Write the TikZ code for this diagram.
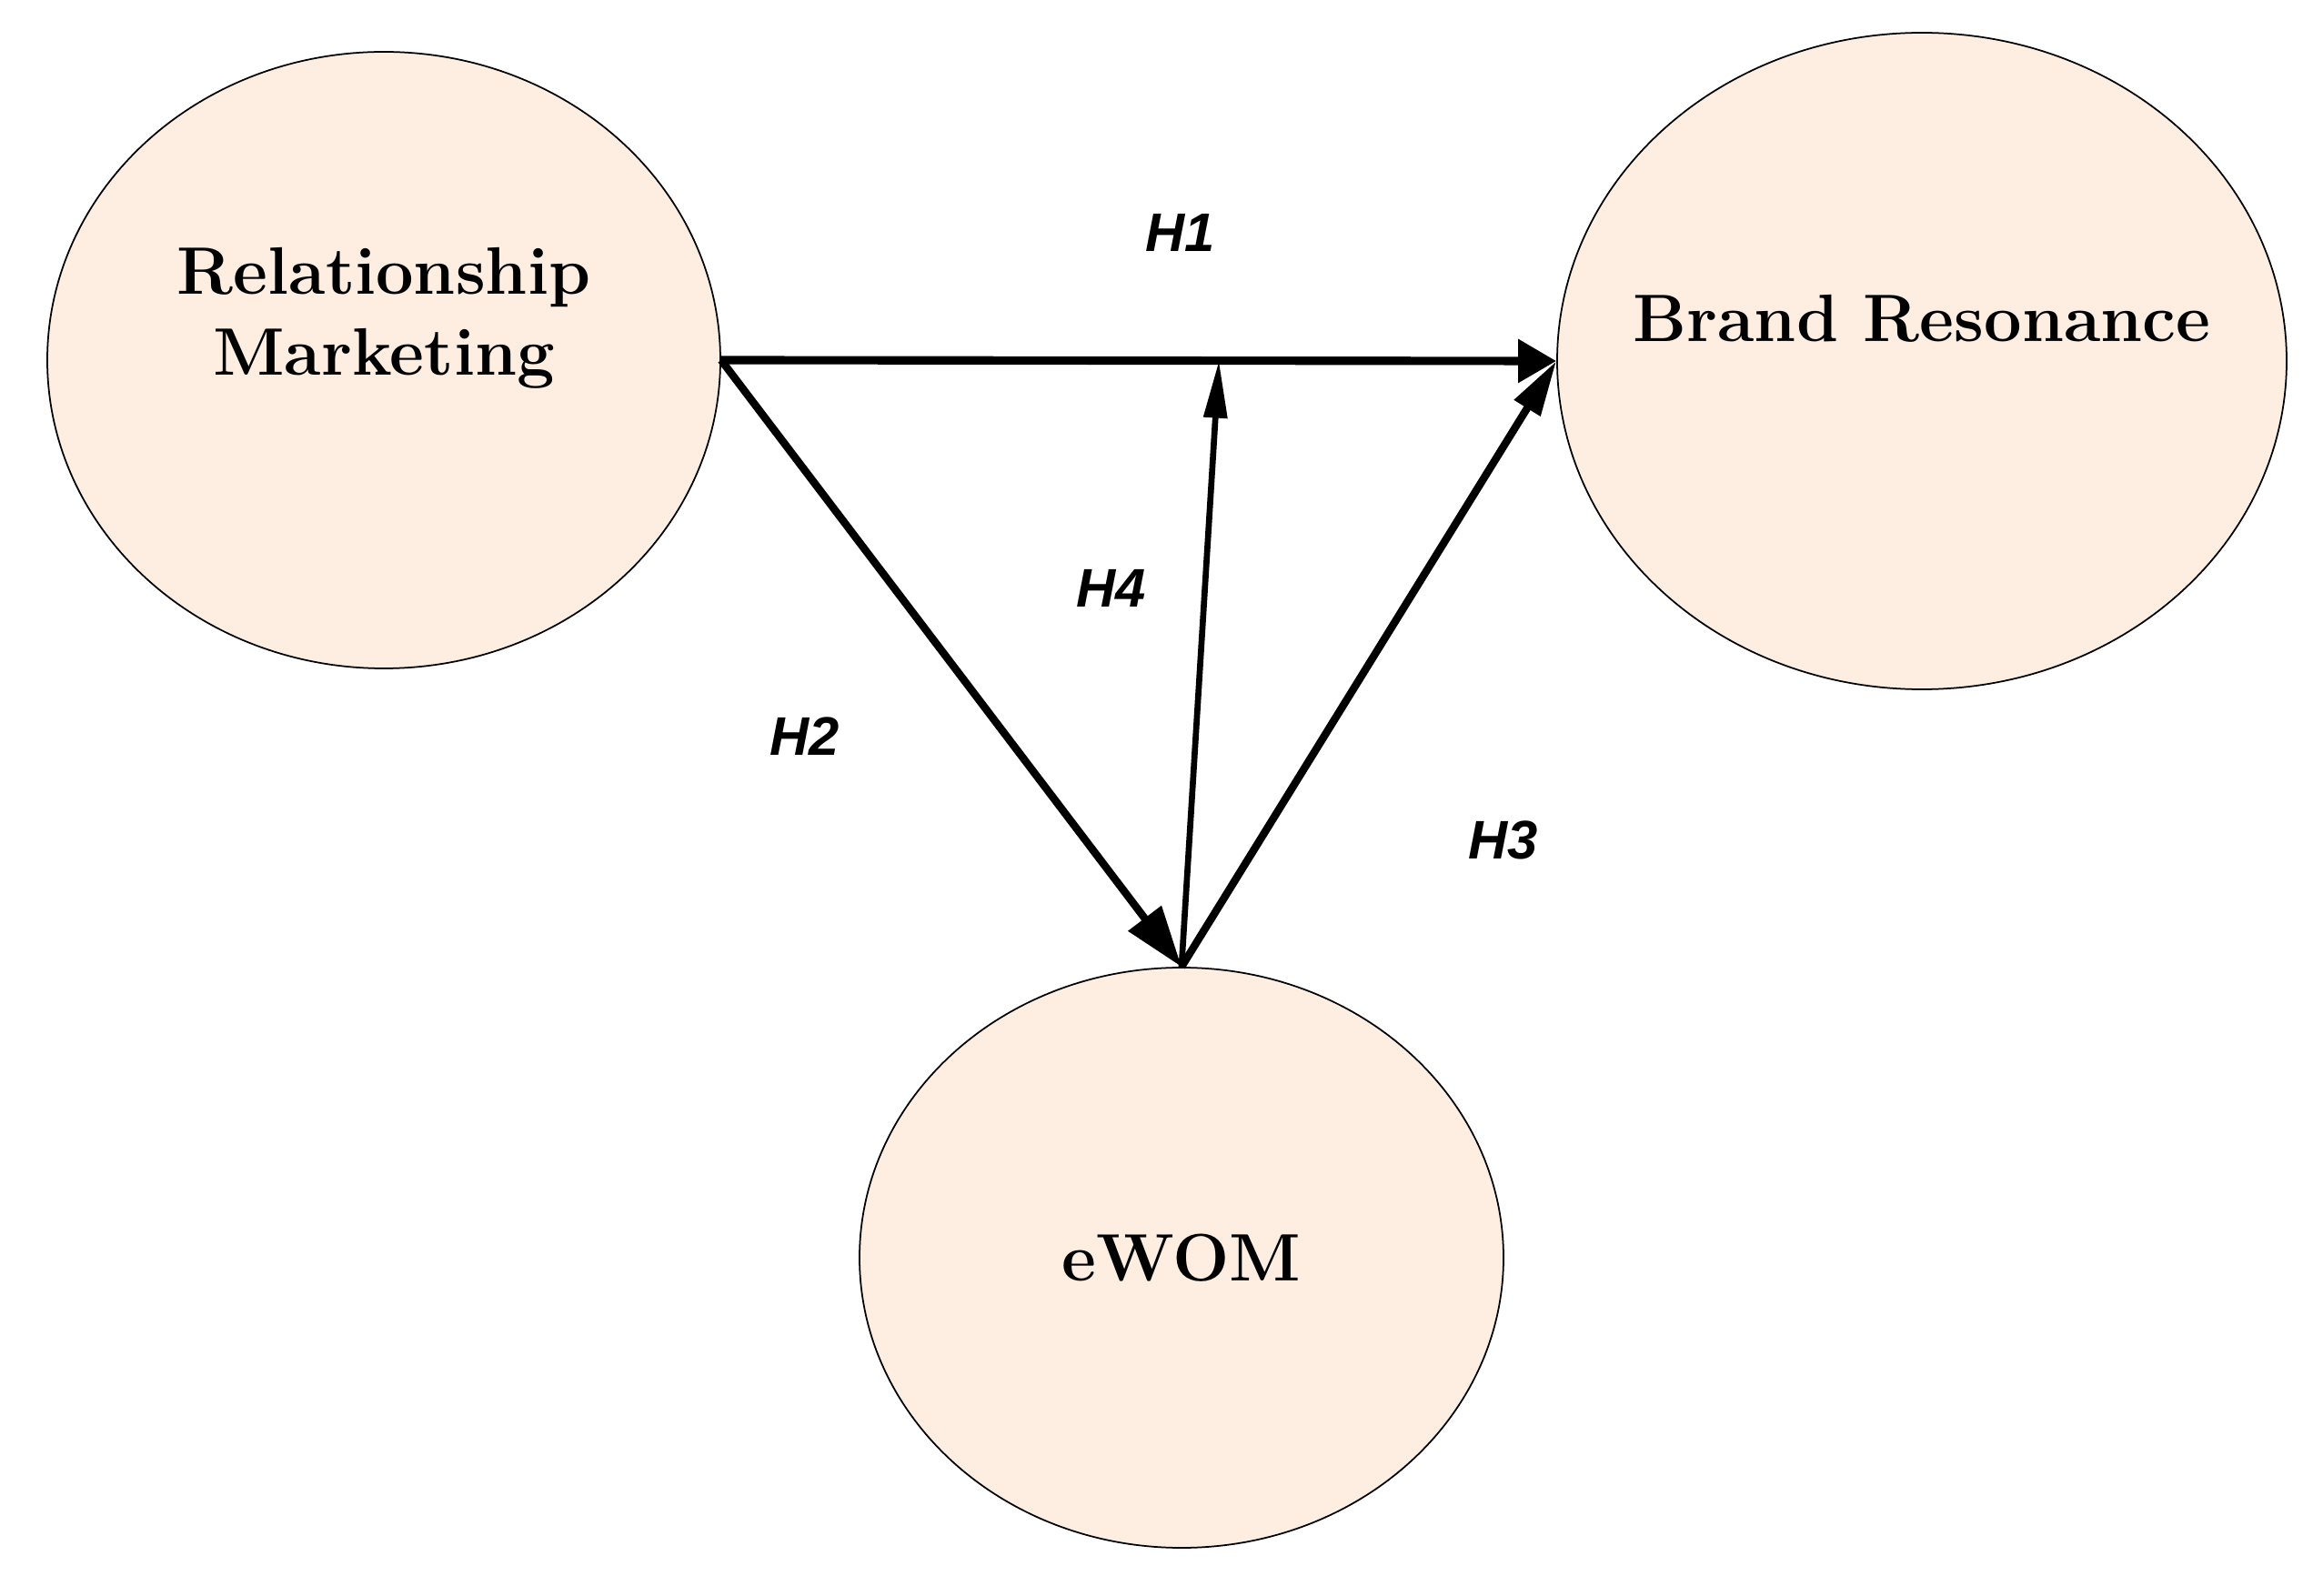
\documentclass[tikz,border=0pt]{standalone}
\usepackage{fontspec}
\newfontfamily\hypfont{Liberation Sans}
\usetikzlibrary{positioning,calc,shapes.geometric,arrows.meta}

\definecolor{peach}{HTML}{FDEEE1}

\tikzset{
  construct/.style={ellipse, draw=black, line width=0.5pt, fill=peach, inner sep=0pt,
    align=center, font=\fontsize{21}{25.5}\selectfont\bfseries},
  hyp/.style={font=\hypfont\fontsize{17}{20}\selectfont\bfseries\itshape},
  link/.style={line width=2.6pt, -{Triangle[length=0.62cm,width=0.45cm]}}
}

\begin{document}
\begin{tikzpicture}
    \useasboundingbox (0,0) rectangle (25.54,17.54);
    % constructs
    \node[construct, minimum width=7.40cm, minimum height=6.78cm] (rm) at (4.22,13.58) {};
    \node[construct, minimum width=8.02cm, minimum height=7.22cm] (br) at (21.13,13.57) {};
    \node[construct, minimum width=7.08cm, minimum height=6.38cm] (ewom) at (12.99,3.71) {};
    \node[font=\fontsize{21}{25.5}\selectfont\bfseries, align=center] (rmtext) at (4.22,14.04) {Relationship\\Marketing};
    \node[font=\fontsize{21}{25.5}\selectfont\bfseries] (brtext) at (21.13,14.04) {Brand Resonance};
    \node[font=\fontsize{21}{25.5}\selectfont\bfseries] (ewomtext) at (12.99,3.71) {eWOM};
    % paths
    \coordinate (mod) at ($(rm.east)!0.596!(br.west)$);
    \draw[link, -{Triangle[length=0.42cm,width=0.46cm]}] (rm.east) -- (br.west);
    \draw[link, line width=2.4pt, -{Triangle[length=0.67cm,width=0.44cm]}] (rm.east) -- (ewom.north);
    \draw[link, line width=2.4pt, -{Triangle[length=0.61cm,width=0.32cm]}] (ewom.north) -- (br.west);
    \draw[link, line width=1.9pt, -{Triangle[length=0.63cm,width=0.25cm]}] (ewom.north) -- (mod);
    % hypotheses
    \node[hyp] (h1) at (12.98,14.98) {H1};
    \node[hyp] (h4) at (12.22,11.07) {H4};
    \node[hyp] (h2) at (8.85,9.44) {H2};
    \node[hyp] (h3) at (16.53,8.30) {H3};
\end{tikzpicture}
\end{document}
